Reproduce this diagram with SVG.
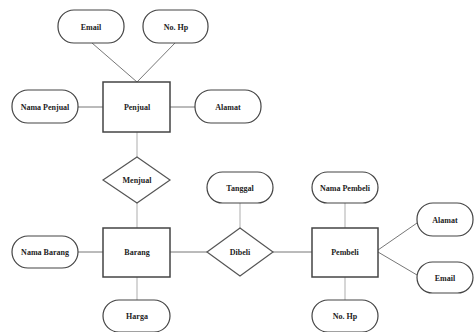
<svg xmlns="http://www.w3.org/2000/svg" width="474" height="332" viewBox="0 0 474 332">
<style>
.attr{fill:#fff;stroke:#444;stroke-width:1.2}
.ent{fill:#fff;stroke:#444;stroke-width:1.5}
.rel{fill:#fff;stroke:#555;stroke-width:1.2}
.ln{stroke:#777;stroke-width:1;fill:none}
.lv{stroke:#bbb;stroke-width:1.2;fill:none}
text{font-family:"Liberation Serif","Times New Roman",serif;font-weight:bold;font-size:8px;fill:#222;text-anchor:middle;dominant-baseline:central}
</style>
<rect width="474" height="332" fill="#fff"/>
<g id="connectors">
<line class="ln" x1="92" y1="43" x2="137" y2="82"/>
<line class="ln" x1="175" y1="43" x2="137" y2="82"/>
<line class="ln" x1="78" y1="107" x2="103" y2="107"/>
<line class="ln" x1="170" y1="107" x2="195" y2="107"/>
<line class="lv" x1="137" y1="132" x2="137" y2="157"/>
<line class="lv" x1="137" y1="203" x2="137" y2="228"/>
<line class="lv" x1="137" y1="277" x2="137" y2="300"/>
<line class="ln" x1="78" y1="252" x2="103" y2="252"/>
<line class="ln" x1="170" y1="252" x2="207" y2="252"/>
<line class="ln" x1="273" y1="252" x2="312" y2="252"/>
<line class="lv" x1="240" y1="203" x2="240" y2="228"/>
<line class="lv" x1="345" y1="203" x2="345" y2="228"/>
<line class="lv" x1="345" y1="277" x2="345" y2="300"/>
<line class="ln" x1="378" y1="250" x2="417" y2="223"/>
<line class="ln" x1="378" y1="252" x2="417" y2="275"/>
</g>
<g id="email1"><rect class="attr" x="58" y="10" width="66" height="33" rx="16"/><text x="91" y="27">Email</text></g>
<g id="nohp1"><rect class="attr" x="143" y="10" width="65" height="33" rx="16"/><text x="176" y="27">No. Hp</text></g>
<g id="namapenjual"><rect class="attr" x="12" y="90" width="66" height="33" rx="16"/><text x="45" y="107">Nama Penjual</text></g>
<g id="penjual"><rect class="ent" x="103" y="82" width="67" height="50"/><text x="137" y="107">Penjual</text></g>
<g id="alamat1"><rect class="attr" x="195" y="90" width="66" height="33" rx="16"/><text x="228" y="107">Alamat</text></g>
<g id="menjual"><polygon class="rel" points="137,157 170,180 137,203 103,180"/><text x="137" y="180">Menjual</text></g>
<g id="namabarang"><rect class="attr" x="12" y="236" width="66" height="32" rx="16"/><text x="45" y="252">Nama Barang</text></g>
<g id="barang"><rect class="ent" x="103" y="228" width="67" height="49"/><text x="137" y="252">Barang</text></g>
<g id="harga"><rect class="attr" x="103" y="300" width="67" height="32" rx="16"/><text x="137" y="316">Harga</text></g>
<g id="tanggal"><rect class="attr" x="207" y="172" width="66" height="31" rx="15.5"/><text x="240" y="188">Tanggal</text></g>
<g id="dibeli"><polygon class="rel" points="240,228 273,252 240,276 207,252"/><text x="240" y="252">Dibeli</text></g>
<g id="namapembeli"><rect class="attr" x="312" y="172" width="66" height="31" rx="15.5"/><text x="345" y="188">Nama Pembeli</text></g>
<g id="pembeli"><rect class="ent" x="312" y="228" width="66" height="49"/><text x="345" y="252">Pembeli</text></g>
<g id="nohp2"><rect class="attr" x="312" y="300" width="66" height="32" rx="16"/><text x="345" y="316">No. Hp</text></g>
<g id="alamat2"><rect class="attr" x="417" y="203" width="56" height="33" rx="16"/><text x="445" y="220">Alamat</text></g>
<g id="email2"><rect class="attr" x="417" y="262" width="56" height="31" rx="15.5"/><text x="445" y="278">Email</text></g>
</svg>
